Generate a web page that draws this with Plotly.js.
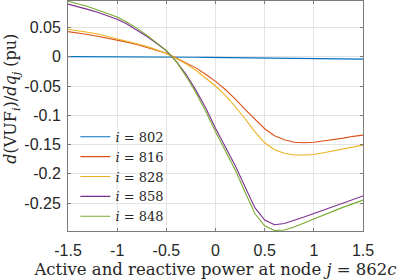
<!DOCTYPE html>
<html>
<head>
<meta charset="utf-8">
<script src="https://cdn.plot.ly/plotly-3.0.1.min.js"></script>
<style>html,body{margin:0;padding:0;background:#fff;}#chart{width:399px;height:279px;}</style>
</head>
<body>
<div id="chart"></div>
<script>
// Active and reactive power at node j = 862c
const xVals = [-1.5,-1.4,-1.3,-1.2,-1.1,-1.0,-0.9,-0.8,-0.7,-0.6,-0.5,-0.4,-0.3,-0.2,-0.1,0.0,0.1,0.2,0.3,0.4,0.5,0.6,0.7,0.8,0.9,1.0,1.1,1.2,1.3,1.4,1.5];

const seriesNames = ["<i>i</i> = 802", "<i>i</i> = 816", "<i>i</i> = 828", "<i>i</i> = 858", "<i>i</i> = 848"];

const y802 = [0.0003,0.0003,0.0002,0.0002,0.0001,0.0001,0.0000,0.0000,-0.0001,-0.0002,-0.0004,-0.0005,-0.0006,-0.0008,-0.0010,-0.0012,-0.0014,-0.0017,-0.0019,-0.0022,-0.0025,-0.0027,-0.0029,-0.0031,-0.0033,-0.0035,-0.0036,-0.0037,-0.0038,-0.0039,-0.0040];
const y816 = [0.043,0.041,0.038,0.035,0.032,0.029,0.025,0.021,0.016,0.011,0.006,-0.002,-0.010,-0.019,-0.030,-0.042,-0.056,-0.072,-0.090,-0.107,-0.123,-0.135,-0.142,-0.146,-0.147,-0.146,-0.144,-0.141,-0.139,-0.136,-0.134];
const y828 = [0.047,0.045,0.042,0.039,0.035,0.031,0.027,0.023,0.018,0.012,0.006,-0.003,-0.012,-0.023,-0.036,-0.050,-0.066,-0.085,-0.106,-0.128,-0.147,-0.159,-0.165,-0.168,-0.168,-0.167,-0.164,-0.161,-0.157,-0.154,-0.151];
const y858 = [0.090,0.086,0.081,0.076,0.070,0.064,0.056,0.046,0.035,0.023,0.010,-0.008,-0.030,-0.057,-0.087,-0.122,-0.155,-0.186,-0.222,-0.258,-0.279,-0.287,-0.285,-0.280,-0.274,-0.268,-0.262,-0.256,-0.250,-0.244,-0.238];
const y848 = [0.095,0.091,0.086,0.080,0.074,0.068,0.059,0.049,0.037,0.024,0.011,-0.008,-0.033,-0.061,-0.093,-0.128,-0.161,-0.193,-0.231,-0.268,-0.289,-0.297,-0.296,-0.291,-0.284,-0.277,-0.270,-0.264,-0.257,-0.251,-0.245];

const seriesColors = ["#0072BD", "#D95319", "#EDB120", "#7E2F8E", "#77AC30"];

const xTickVals = [-1.5,-1,-0.5,0,0.5,1,1.5];
const xTickText = ["-1.5","-1","-0.5","0","0.5","1","1.5"];
const yTickVals = [-0.25,-0.2,-0.15,-0.1,-0.05,0,0.05];
const yTickText = ["-0.25","-0.2","-0.15","-0.1","-0.05","0","0.05"];

const ys = [y802, y816, y828, y858, y848];
const traces = ys.map((y, k) => ({
  x: xVals, y: y, type: "scatter", mode: "lines", name: seriesNames[k],
  line: {color: seriesColors[k], width: 1.1}
}));

const tickFont = {family: "Liberation Sans, Arial, sans-serif", size: 16, color: "#262626"};
const serif = "DejaVu Serif, serif";

const layout = {
  width: 399, height: 279,
  margin: {l: 68, r: 36, t: 1, b: 48},
  paper_bgcolor: "#fff", plot_bgcolor: "#fff",
  showlegend: true,
  legend: {x: 0.025, y: 0.475, xanchor: "left", yanchor: "top", bgcolor: "rgba(0,0,0,0)",
           borderwidth: 0, font: {family: serif, size: 13, color: "#262626"}, tracegroupgap: 0},
  xaxis: {
    range: [-1.5, 1.5], tickmode: "array", tickvals: xTickVals, ticktext: xTickText,
    showgrid: true, gridcolor: "#e3e3e3", gridwidth: 1, zeroline: false,
    showline: true, linecolor: "#7a7a7a", linewidth: 1, mirror: "ticks",
    ticks: "inside", ticklen: 3, tickcolor: "#7a7a7a", tickfont: tickFont,
    ticklabelstandoff: 5,
    title: {text: "Active and reactive power at node <i>j</i> = 862<i>c</i>", font: {family: serif, size: 16.5, color: "#262626"}, standoff: 5}
  },
  yaxis: {
    range: [-0.2978, 0.0953], tickmode: "array", tickvals: yTickVals, ticktext: yTickText,
    showgrid: true, gridcolor: "#e3e3e3", gridwidth: 1, zeroline: false,
    showline: true, linecolor: "#7a7a7a", linewidth: 1, mirror: "ticks",
    ticks: "inside", ticklen: 3, tickcolor: "#7a7a7a", tickfont: tickFont,
    ticklabelstandoff: 3
  },
  annotations: [{
    text: "<i>d</i>(VUF<sub><i>i</i></sub>)/<i>dq</i><sub><i>j</i></sub> (pu)",
    xref: "paper", yref: "paper", x: -0.19, y: 0.575, xanchor: "center", yanchor: "middle",
    textangle: -90, showarrow: false, font: {family: serif, size: 16, color: "#262626"}
  }]
};

Plotly.newPlot("chart", traces, layout, {displayModeBar: false, staticPlot: true});
</script>
</body>
</html>
